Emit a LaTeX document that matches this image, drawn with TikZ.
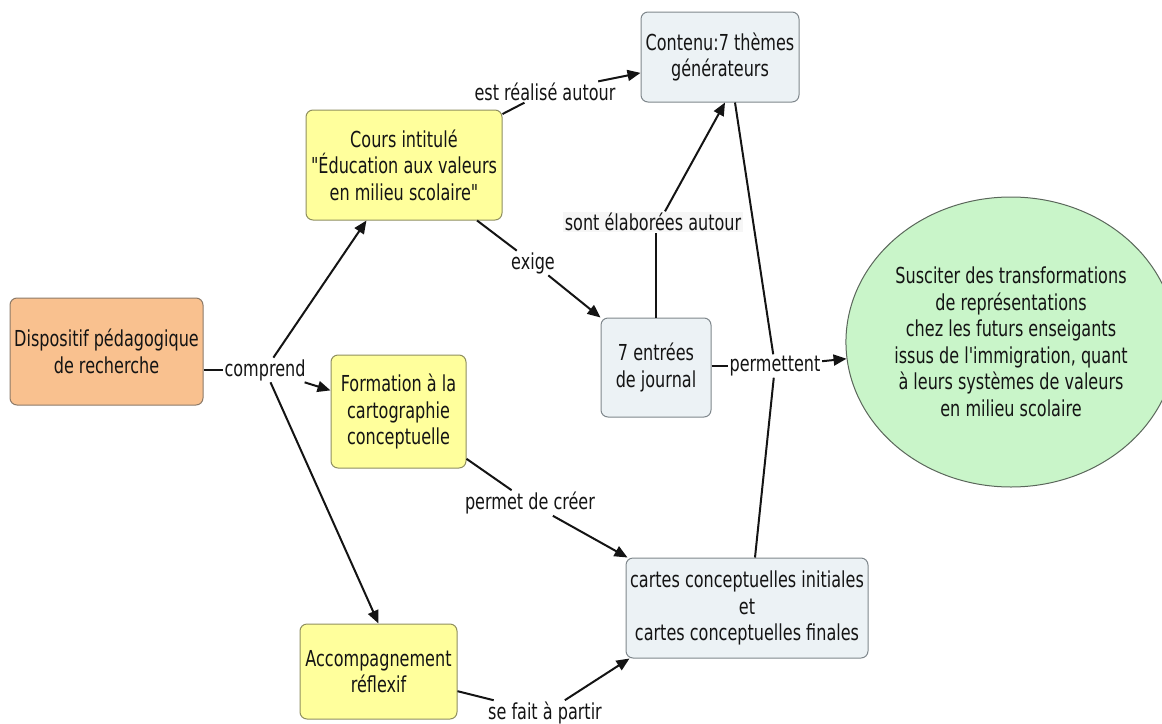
\documentclass[tikz,border=0pt]{standalone}
\usepackage{fontspec}
\newfontfamily\cmapfont{DejaVu Sans}[FakeStretch=0.73]
\usetikzlibrary{shapes.geometric,arrows.meta}

\definecolor{peachfill}{HTML}{F9C18F}
\definecolor{peachline}{HTML}{8C7A68}
\definecolor{yellowfill}{HTML}{FFFF9C}
\definecolor{yellowline}{HTML}{8F8F60}
\definecolor{greyfill}{HTML}{ECF2F5}
\definecolor{greyline}{HTML}{7F878C}
\definecolor{greenfill}{HTML}{C9F5C9}
\definecolor{greenline}{HTML}{5A665A}
\definecolor{inkcol}{HTML}{141414}

\begin{document}
\begin{tikzpicture}[x=1pt,y=-1pt,
  every node/.style={font=\fontsize{22}{26.5}\cmapfont, text=inkcol, align=center},
  concept/.style 2 args={draw=#2, fill=#1, line width=1pt, rounded corners=7pt,
    inner sep=2pt},
  orangebox/.style={concept={peachfill}{peachline}},
  yellowbox/.style={concept={yellowfill}{yellowline}},
  greybox/.style={concept={greyfill}{greyline}},
  goalshape/.style={ellipse, draw=greenline, fill=greenfill, line width=1pt, inner sep=0pt},
  linklabel/.style={inner sep=1.5pt, fill=white},
  conn/.style={draw=inkcol, line width=2pt},
  arr/.style={conn, -{Triangle[length=13pt,width=11pt]}}
]
\useasboundingbox (0,0) rectangle (1162,723);

% concepts
\node[orangebox, minimum width=193, minimum height=107] (disp) at (106.5,351.5)
  {Dispositif pédagogique\\de recherche};
\node[yellowbox, minimum width=196, minimum height=110] (cours) at (404,165)
  {Cours intitulé\\"Éducation aux valeurs\\en milieu scolaire"};
\node[yellowbox, minimum width=135, minimum height=113] (form) at (398.5,411.5)
  {Formation à la\\cartographie\\conceptuelle};
\node[yellowbox, minimum width=157, minimum height=95] (accomp) at (378.5,671.5)
  {Accompagnement\\réflexif};
\node[greybox, minimum width=158, minimum height=90] (contenu) at (720,57)
  {Contenu:7 thèmes\\générateurs};
\node[greybox, minimum width=110, minimum height=99] (entrees) at (656,367.5)
  {7 entrées\\de journal};
\node[greybox, minimum width=242, minimum height=100] (cartes) at (747,608)
  {cartes conceptuelles initiales\\et\\cartes conceptuelles finales};
\node[goalshape, minimum width=298, minimum height=290] (goal) at (1011,342)
  {Susciter des transformations\\de représentations\\chez les futurs enseigants\\issus de l'immigration, quant\\à leurs systèmes de valeurs\\en milieu scolaire};

% linking phrases
\node[linklabel] (comprend) at (265,370) {comprend};
\node[linklabel] (realise) at (545,92) {est réalisé autour};
\node[linklabel] (exige) at (533,263) {exige};
\node[linklabel, fill=gray!7] (sont) at (653,222) {sont élaborées autour};
\node[linklabel] (permettent) at (775,366) {permettent};
\node[linklabel] (creer) at (530,503) {permet de créer};
\node[linklabel] (sefait) at (545,713) {se fait à partir};

% connections
\draw[conn] (disp.east |- comprend.west) -- (comprend.west);
\draw[arr] (comprend) -- (cours);
\draw[arr] (comprend) -- (form);
\draw[arr] (comprend) -- (accomp.north);

\draw[conn] (cours) -- (realise);
\draw[arr] (realise) -- (contenu);

\draw[conn] (cours) -- (exige);
\draw[arr] (exige) -- (entrees.north west);

\draw[conn] (entrees.north) -- (entrees.north |- sont.south);
\draw[arr] ([xshift=12pt]sont.north) -- ([xshift=5pt]contenu.south);

\draw[conn] ([xshift=15pt]contenu.south) -- (permettent);
\draw[conn] (entrees.east |- permettent.west) -- (permettent.west);
\draw[conn] ([xshift=8pt]cartes.north) -- (permettent);
\draw[arr] (permettent) -- (goal);

\draw[conn] (form) -- (creer);
\draw[arr] (creer) -- ([xshift=2pt]cartes.north west);

\draw[conn] (accomp) -- (sefait);
\draw[arr] (sefait) -- ([xshift=4pt]cartes.south west);
\end{tikzpicture}
\end{document}
